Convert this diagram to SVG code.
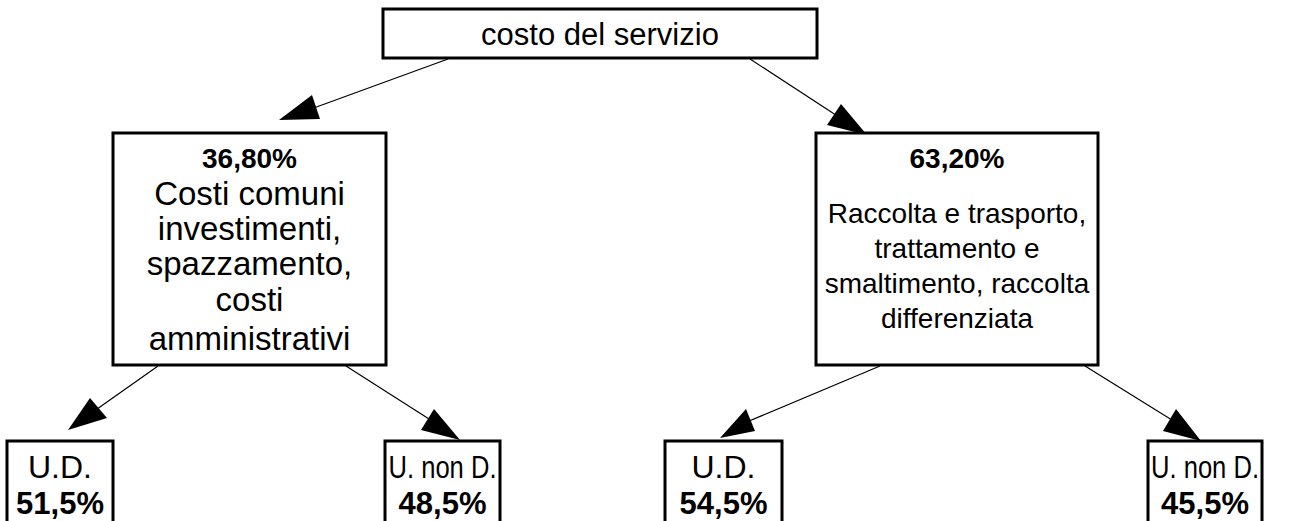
<svg xmlns="http://www.w3.org/2000/svg" width="1295" height="521" viewBox="0 0 1295 521">
<defs>
<style>
.box{fill:#fff;stroke:#000;stroke-width:3}
.t{font-family:"Liberation Sans",Arial,sans-serif;font-size:28px;fill:#000;text-anchor:middle}
.top{font-size:31px}
.l{font-size:33px}
.s{font-size:32px}
.b{font-weight:bold;font-size:28px}
.bb{font-weight:bold;font-size:31px}
.c{stroke:#000;stroke-width:1.2;fill:none}
.h{fill:#000;stroke:none}
</style>
</defs>
<rect width="1295" height="521" fill="#fff"/>
<g id="connectors">
<line class="c" x1="448" y1="59" x2="300" y2="113"/>
<polygon class="h" points="279,120 312,95 320,119"/>
<line class="c" x1="750" y1="59" x2="845" y2="121"/>
<polygon class="h" points="867,135 827,125 841,104"/>
<line class="c" x1="158" y1="366" x2="90" y2="414"/>
<polygon class="h" points="68,430 90,398 107,418"/>
<line class="c" x1="346" y1="366" x2="440" y2="426"/>
<polygon class="h" points="460,440 421,430 434,409"/>
<line class="c" x1="880" y1="366" x2="742" y2="424"/>
<polygon class="h" points="720,438 746,409 755,431"/>
<line class="c" x1="1085" y1="366" x2="1180" y2="425"/>
<polygon class="h" points="1201,441 1163,431 1176,409"/>
</g>
<g id="n-top">
<rect class="box" x="383" y="9" width="434" height="49"/>
<text class="t top" x="600" y="45">costo del servizio</text>
</g>
<g id="n-left">
<rect class="box" x="113" y="133" width="273" height="232"/>
<text class="t b" x="249.5" y="168">36,80%</text>
<text class="t l" x="249.5" y="205">Costi comuni</text>
<text class="t l" x="249.5" y="240">investimenti,</text>
<text class="t l" x="249.5" y="275">spazzamento,</text>
<text class="t l" x="249.5" y="311">costi</text>
<text class="t l" x="249.5" y="350">amministrativi</text>
</g>
<g id="n-right">
<rect class="box" x="816" y="133" width="282" height="232"/>
<text class="t b" x="957" y="168">63,20%</text>
<text class="t" x="957" y="223">Raccolta e trasporto,</text>
<text class="t" x="957" y="258">trattamento e</text>
<text class="t" x="957" y="293">smaltimento, raccolta</text>
<text class="t" x="957" y="328">differenziata</text>
</g>
<g id="n-ud1">
<rect class="box" x="7" y="441" width="106" height="100"/>
<text class="t s" x="60" y="478">U.D.</text>
<text class="t bb" x="60" y="514">51,5%</text>
</g>
<g id="n-und1">
<rect class="box" x="385" y="441" width="115" height="100"/>
<text class="t s" x="442.5" y="478" textLength="108" lengthAdjust="spacingAndGlyphs">U. non D.</text>
<text class="t bb" x="442.5" y="514">48,5%</text>
</g>
<g id="n-ud2">
<rect class="box" x="665" y="441" width="117" height="100"/>
<text class="t s" x="723.5" y="478">U.D.</text>
<text class="t bb" x="723.5" y="514">54,5%</text>
</g>
<g id="n-und2">
<rect class="box" x="1148" y="441" width="114" height="100"/>
<text class="t s" x="1205" y="478" textLength="108" lengthAdjust="spacingAndGlyphs">U. non D.</text>
<text class="t bb" x="1205" y="514">45,5%</text>
</g>
</svg>
